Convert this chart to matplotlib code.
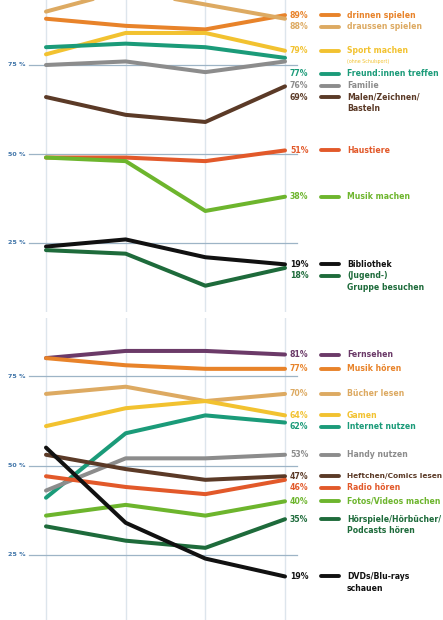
import matplotlib
matplotlib.use("Agg")
import matplotlib.pyplot as plt

# ---------------- data ----------------
waves = ["Welle 1", "Welle 2", "Welle 3", "Welle 4"]

top_names = ["drinnen spielen", "draussen spielen", "Sport machen", "Freund:innen treffen",
             "Familie", "Malen/Zeichnen/\nBasteln", "Haustiere", "Musik machen",
             "Bibliothek", "(Jugend-)\nGruppe besuchen"]
top_notes = ["", "", "(ohne Schulsport)", "", "", "", "", "", "", ""]
top_values = [
    [88, 86, 85, 89],
    [90, 96, 92, 88],
    [78, 84, 84, 79],
    [80, 81, 80, 77],
    [75, 76, 73, 76],
    [66, 61, 59, 69],
    [49, 49, 48, 51],
    [49, 48, 34, 38],
    [24, 26, 21, 19],
    [23, 22, 13, 18],
]
top_colors = ["#E8832A", "#DDAA62", "#F2C230", "#1B9B79", "#8C8C8C", "#5B3A27",
              "#E2592A", "#6DB52D", "#111111", "#1E6B3B"]

bot_names = ["Fernsehen", "Musik hören", "Bücher lesen", "Gamen", "Internet nutzen",
             "Handy nutzen", "Heftchen/Comics lesen", "Radio hören", "Fotos/Videos machen",
             "Hörspiele/Hörbücher/\nPodcasts hören", "DVDs/Blu-rays\nschauen"]
bot_notes = [""] * len(bot_names)
bot_values = [
    [80, 82, 82, 81],
    [80, 78, 77, 77],
    [70, 72, 68, 70],
    [61, 66, 68, 64],
    [41, 59, 64, 62],
    [43, 52, 52, 53],
    [53, 49, 46, 47],
    [47, 44, 42, 46],
    [36, 39, 36, 40],
    [33, 29, 27, 35],
    [55, 34, 24, 19],
]
bot_colors = ["#6B3A68", "#E8832A", "#DDAA62", "#F2C230", "#1B9B79", "#8C8C8C",
              "#5B3A27", "#E2592A", "#6DB52D", "#1E6B3B", "#111111"]

grid_levels = [25, 50, 75]

# ---------------- layout helpers ----------------
W, H = 443, 620
X0_PX, X3_PX = 46, 285
PX_PER_UNIT = (X3_PX - X0_PX) / 3.0


def px2x(px):
    return (px - X0_PX) / PX_PER_UNIT


FONT = "DejaVu Sans"
FS = 5.6
GRID_COL = "#9DB4C6"
VGRID_COL = "#DDE5EC"
TICK_COL = "#3F74A8"


def place_labels(ends, nlines, gap):
    order = sorted(range(len(ends)), key=lambda i: -ends[i])
    pos = [0.0] * len(ends)
    prev = None
    prev_lines = 1
    for i in order:
        y = ends[i]
        if prev is not None:
            y = min(y, prev - prev_lines * gap)
        pos[i] = y
        prev = y
        prev_lines = nlines[i]
    return pos


def draw_panel(fig, ax, names, notes, values, colors, ylim, px_per_pct):
    ax.set_xlim(px2x(0), px2x(W))
    ax.set_ylim(*ylim)
    ax.axis("off")
    xs = list(range(len(waves)))
    for x in xs:
        ax.axvline(x, color=VGRID_COL, lw=1.0, zorder=0)
    for g in grid_levels:
        ax.plot([px2x(29), px2x(297)], [g, g], color=GRID_COL, lw=0.9, zorder=1,
                clip_on=False)
        ax.text(px2x(26), g, f"{g} %", ha="right", va="center", fontsize=4.6,
                color=TICK_COL, fontweight="bold", family=FONT)
    for vals, col in zip(values, colors):
        ax.plot(xs, vals, color=col, lw=2.9, solid_capstyle="round",
                solid_joinstyle="round", zorder=3)

    gap = 11.6 / px_per_pct
    nlines = []
    for n, note in zip(names, notes):
        nlines.append(n.count("\n") + 1 + (1 if note else 0))
    ends = [v[-1] for v in values]
    pos = place_labels(ends, nlines, gap)
    renderer = fig.canvas.get_renderer()
    for n, note, vals, col, y in zip(names, notes, values, colors, pos):
        ax.text(px2x(290), y, f"{vals[-1]}%", ha="left", va="center", fontsize=FS,
                color=col, fontweight="bold", family=FONT, clip_on=False)
        ax.plot([px2x(321), px2x(339)], [y, y], color=col, lw=2.8,
                solid_capstyle="round", clip_on=False, zorder=3)
        parts = n.split("\n")
        for k, p in enumerate(parts):
            t = ax.text(px2x(347), y - k * gap, p, ha="left", va="center", fontsize=FS,
                        color=col, fontweight="bold", family=FONT, clip_on=False)
            # shrink a label slightly if it would run past the right edge
            fs = FS
            while fs > 4.0:
                bb = t.get_window_extent(renderer=renderer)
                if bb.x1 <= W - 1:
                    break
                fs -= 0.1
                t.set_fontsize(fs)
        if note:
            ax.text(px2x(347), y - len(parts) * gap * 0.9, note, ha="left", va="center",
                    fontsize=3.4, color=col, family=FONT, clip_on=False)


fig = plt.figure(figsize=(W / 100, H / 100), dpi=100)
fig.patch.set_facecolor("white")

# top panel: pixels 0..312
top_h = 312
ax_top = fig.add_axes([0, 1 - top_h / H, 1, top_h / H])
ppp_top = 3.56
top_max = 75 + 65 / ppp_top
draw_panel(fig, ax_top, top_names, top_notes, top_values, top_colors,
           (top_max - top_h / ppp_top, top_max), ppp_top)

# bottom panel: pixels 318..620
bot_h = 302
ax_bot = fig.add_axes([0, 0, 1, bot_h / H])
ppp_bot = 3.58
bot_max = 75 + (376 - 318) / ppp_bot
draw_panel(fig, ax_bot, bot_names, bot_notes, bot_values, bot_colors,
           (bot_max - bot_h / ppp_bot, bot_max), ppp_bot)

fig.savefig("out.png", dpi=100, facecolor="white")
